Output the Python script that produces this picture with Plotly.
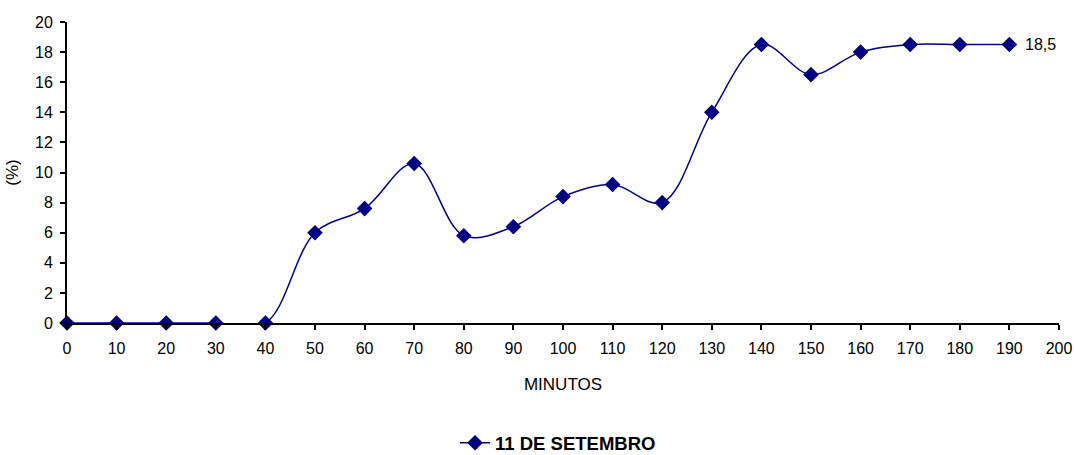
import plotly.graph_objects as go

# Elapsed time in minutes and measured percentage
minutes = [0, 10, 20, 30, 40, 50, 60, 70, 80, 90, 100, 110, 120, 130, 140, 150, 160, 170, 180, 190]
percent = [0, 0, 0, 0, 0, 6.0, 7.6, 10.6, 5.8, 6.4, 8.4, 9.2, 8.0, 14.0, 18.5, 16.5, 18.0, 18.5, 18.5, 18.5]
series_name = "11 DE SETEMBRO"
x_ticks = list(range(0, 201, 10))
y_ticks = list(range(0, 21, 2))

navy = "#000080"
font_family = "Liberation Sans, Arial, sans-serif"

fig = go.Figure()
fig.add_trace(go.Scatter(
    x=minutes,
    y=percent,
    name=series_name,
    mode="lines+markers",
    line=dict(color=navy, width=1.5, shape="spline", smoothing=1.0),
    marker=dict(symbol="diamond", size=12, color=navy),
    cliponaxis=False,
))

# Value label next to the final reading
fig.add_annotation(
    x=minutes[-1],
    y=percent[-1],
    text=f"{percent[-1]:.1f}".replace(".", ","),
    showarrow=False,
    xanchor="left",
    yanchor="middle",
    xshift=14,
    font=dict(family=font_family, size=16, color="#000000"),
)

axis_common = dict(
    showgrid=False,
    zeroline=False,
    showline=True,
    linecolor="#000000",
    linewidth=2,
    ticks="outside",
    ticklen=5,
    tickwidth=2,
    tickcolor="#000000",
    automargin=False,
    tickfont=dict(family=font_family, size=16, color="#000000"),
)

fig.update_layout(
    width=1074,
    height=455,
    paper_bgcolor="white",
    plot_bgcolor="white",
    margin=dict(l=67, r=15, t=22, b=132, autoexpand=False),
    font=dict(family=font_family, size=16, color="#000000"),
    showlegend=True,
    legend=dict(
        orientation="h",
        x=0.495,
        xanchor="center",
        yref="container",
        y=0.026,
        yanchor="middle",
        font=dict(family=font_family, size=18.5, color="#000000", weight="bold"),
    ),
    xaxis=dict(
        range=[0, 200],
        tickvals=x_ticks,
        ticktext=[str(v) for v in x_ticks],
        ticklabelstandoff=5,
        title=dict(text="MINUTOS", standoff=22, font=dict(size=17)),
        **axis_common,
    ),
    yaxis=dict(
        range=[0, 20],
        tickvals=y_ticks,
        ticktext=[str(v) for v in y_ticks],
        ticklabelstandoff=4,
        title=dict(text="(%)", standoff=12, font=dict(size=17)),
        **axis_common,
    ),
)

fig.write_html("out.html")
